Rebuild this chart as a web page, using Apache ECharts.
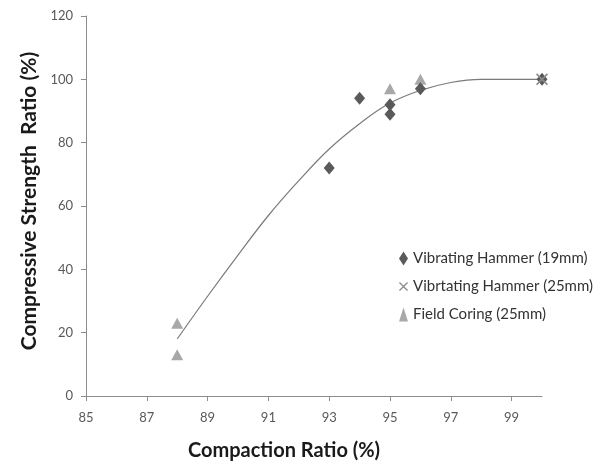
<!DOCTYPE html>
<html>
<head>
<meta charset="utf-8">
<script src="https://cdn.jsdelivr.net/npm/echarts@6/dist/echarts.min.js"></script>
<style>html,body{margin:0;padding:0;background:#fff}#c{width:611px;height:472px}</style>
</head>
<body>
<div id="c"></div>
<script>
const xTicks = [85, 87, 89, 91, 93, 95, 97, 99];
const yTicks = [0, 20, 40, 60, 80, 100, 120];
const hammer19 = [[93, 72], [94, 94], [95, 92], [95, 89], [96, 97], [100, 100]];
const hammer25 = [[100, 100]];
const fieldCoring = [[88, 23], [88, 13], [95, 97], [96, 100]];
const trendX = [88, 89, 90, 91, 92, 93, 94, 95, 96, 97, 98, 99, 100];
const trendY = [18, 31.5, 44.5, 57, 68, 78, 86, 92.5, 96.5, 99, 100, 100, 100];

const crossPath = 'path://M0,1 L1,0 L5,4 L9,0 L10,1 L6,5 L10,9 L9,10 L5,6 L1,10 L0,9 L4,5 Z';
const font = 'Lato';
const chart = echarts.init(document.getElementById('c'));
chart.setOption({
  animation: false,
  backgroundColor: '#fff',
  grid: { left: 86, right: 69, top: 16, bottom: 76, containLabel: false },
  legend: {
    orient: 'vertical', left: 394, top: 246, itemGap: 13, itemWidth: 9, itemHeight: 14,
    textStyle: { fontFamily: font, fontSize: 15, lineHeight: 14, color: '#333' },
    data: [
      { name: 'Vibrating Hammer (19mm)', icon: 'diamond' },
      { name: 'Vibrtating Hammer (25mm)', icon: crossPath },
      { name: 'Field Coring (25mm)', icon: 'triangle' }
    ]
  },
  xAxis: {
    type: 'value', min: 85, max: 100,
    name: 'Compaction Ratio (%)', nameLocation: 'middle', nameGap: 45,
    nameTextStyle: { fontFamily: font, fontSize: 20, fontWeight: 'bold', color: '#1a1a1a', padding: [0, 60, 0, 0] },
    axisLine: { show: true, lineStyle: { color: '#8c8c8c', width: 1 } },
    axisTick: { show: true, customValues: xTicks, length: 5, lineStyle: { color: '#8c8c8c' } },
    axisLabel: { customValues: xTicks, margin: 15, fontFamily: font, fontSize: 13, color: '#595959' },
    splitLine: { show: false }
  },
  yAxis: {
    type: 'value', min: 0, max: 120, interval: 20,
    name: 'Compressive Strength  Ratio (%)', nameLocation: 'middle', nameGap: 44,
    nameTextStyle: { fontFamily: font, fontSize: 21, fontWeight: 'bold', color: '#1a1a1a', padding: [0, 0, 0, 10] },
    axisLine: { show: true, lineStyle: { color: '#8c8c8c', width: 1 } },
    axisTick: { show: true, customValues: yTicks, length: 5, lineStyle: { color: '#8c8c8c' } },
    axisLabel: { customValues: yTicks, margin: 13, fontFamily: font, fontSize: 13, color: '#595959' },
    splitLine: { show: false }
  },
  series: [
    {
      name: 'trend', type: 'line', smooth: 0.4, showSymbol: false, silent: true,
      data: trendX.map((x, i) => [x, trendY[i]]),
      lineStyle: { color: '#7a7a7a', width: 1.2 }, z: 1
    },
    {
      name: 'Vibrating Hammer (19mm)', type: 'scatter', symbol: 'diamond', symbolSize: [11, 13],
      data: hammer19, itemStyle: { color: '#5a5a5a', opacity: 1 }, z: 3
    },
    {
      name: 'Vibrtating Hammer (25mm)', type: 'scatter', symbol: crossPath, symbolSize: 12,
      data: hammer25, itemStyle: { color: '#8a8a8a', opacity: 1 }, z: 4
    },
    {
      name: 'Field Coring (25mm)', type: 'scatter', symbol: 'triangle', symbolSize: [12, 11],
      data: fieldCoring, itemStyle: { color: '#a8a8a8', opacity: 1 }, z: 2
    }
  ]
});
</script>
</body>
</html>
